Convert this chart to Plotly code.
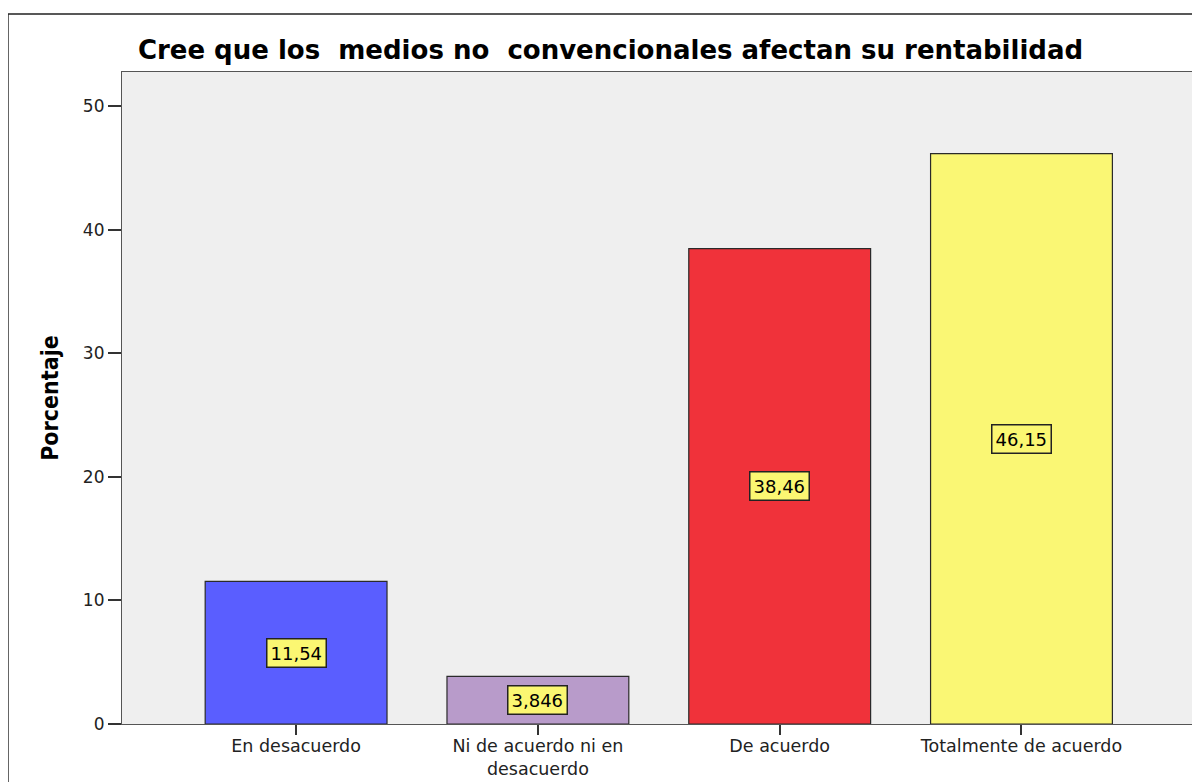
import plotly.graph_objects as go

# Datos del gráfico
categorias = ["En desacuerdo", "Ni de acuerdo ni en<br>desacuerdo", "De acuerdo", "Totalmente de acuerdo"]
porcentajes = [11.54, 3.846, 38.46, 46.15]
etiquetas = ["11,54", "3,846", "38,46", "46,15"]
colores = ["#5a5eff", "#b89bca", "#f0323a", "#faf774"]
y_ticks = [0, 10, 20, 30, 40, 50]

titulo = "Cree que los\u00a0\u00a0medios no\u00a0\u00a0convencionales afectan su rentabilidad"

fuente = "DejaVu Sans, Liberation Sans, Arial"

fig = go.Figure()

fig.add_trace(go.Bar(
    x=categorias,
    y=porcentajes,
    marker_color=colores,
    marker_line_color="#2a2a2a",
    marker_line_width=1.2,
    width=0.752,
    showlegend=False,
    hoverinfo="skip",
))

# Etiquetas amarillas en el centro de cada barra
for cat, val, txt in zip(categorias, porcentajes, etiquetas):
    fig.add_annotation(
        x=cat, y=val / 2,
        text=txt,
        showarrow=False,
        font=dict(family=fuente, size=18, color="black"),
        bgcolor="#fbf772",
        bordercolor="#222222",
        borderwidth=1.5,
        borderpad=3,
    )

# Marco exterior
fig.add_shape(
    type="rect", xref="paper", yref="paper",
    x0=-0.106, x1=1.03, y0=-0.15, y1=1.089,
    line=dict(color="#222222", width=1.5),
    fillcolor="rgba(0,0,0,0)",
    layer="below",
)

fig.update_layout(
    width=1192, height=774,
    plot_bgcolor="#efefef",
    paper_bgcolor="white",
    margin=dict(l=114, r=2, t=64, b=58),
    title=dict(
        text=titulo,
        x=0.454, xref="paper", xanchor="center",
        y=0.946, yanchor="middle",
        font=dict(family=fuente, size=26, color="black", weight="bold"),
    ),
    xaxis=dict(
        type="category",
        range=[-0.72, 3.73],
        automargin=False,
        showline=True, linecolor="#555555", linewidth=1.2, mirror=True,
        ticks="outside", ticklen=10, tickcolor="#333333", tickwidth=1.5,
        ticklabelstandoff=-4,
        tickfont=dict(family=fuente, size=17.5, color="#222222"),
        showgrid=False,
    ),
    yaxis=dict(
        range=[0, 52.75],
        tickvals=y_ticks,
        automargin=False,
        showline=True, linecolor="#555555", linewidth=1.2, mirror=True,
        ticks="outside", ticklen=13, tickcolor="#333333", tickwidth=1.5,
        tickfont=dict(family=fuente, size=17, color="#222222"),
        showgrid=False, zeroline=False,
        title=dict(text="Porcentaje", standoff=17,
                   font=dict(family="DejaVu Sans Condensed, Liberation Sans", size=23,
                             color="black", weight="bold")),
    ),
)

fig.write_html("out.html")
